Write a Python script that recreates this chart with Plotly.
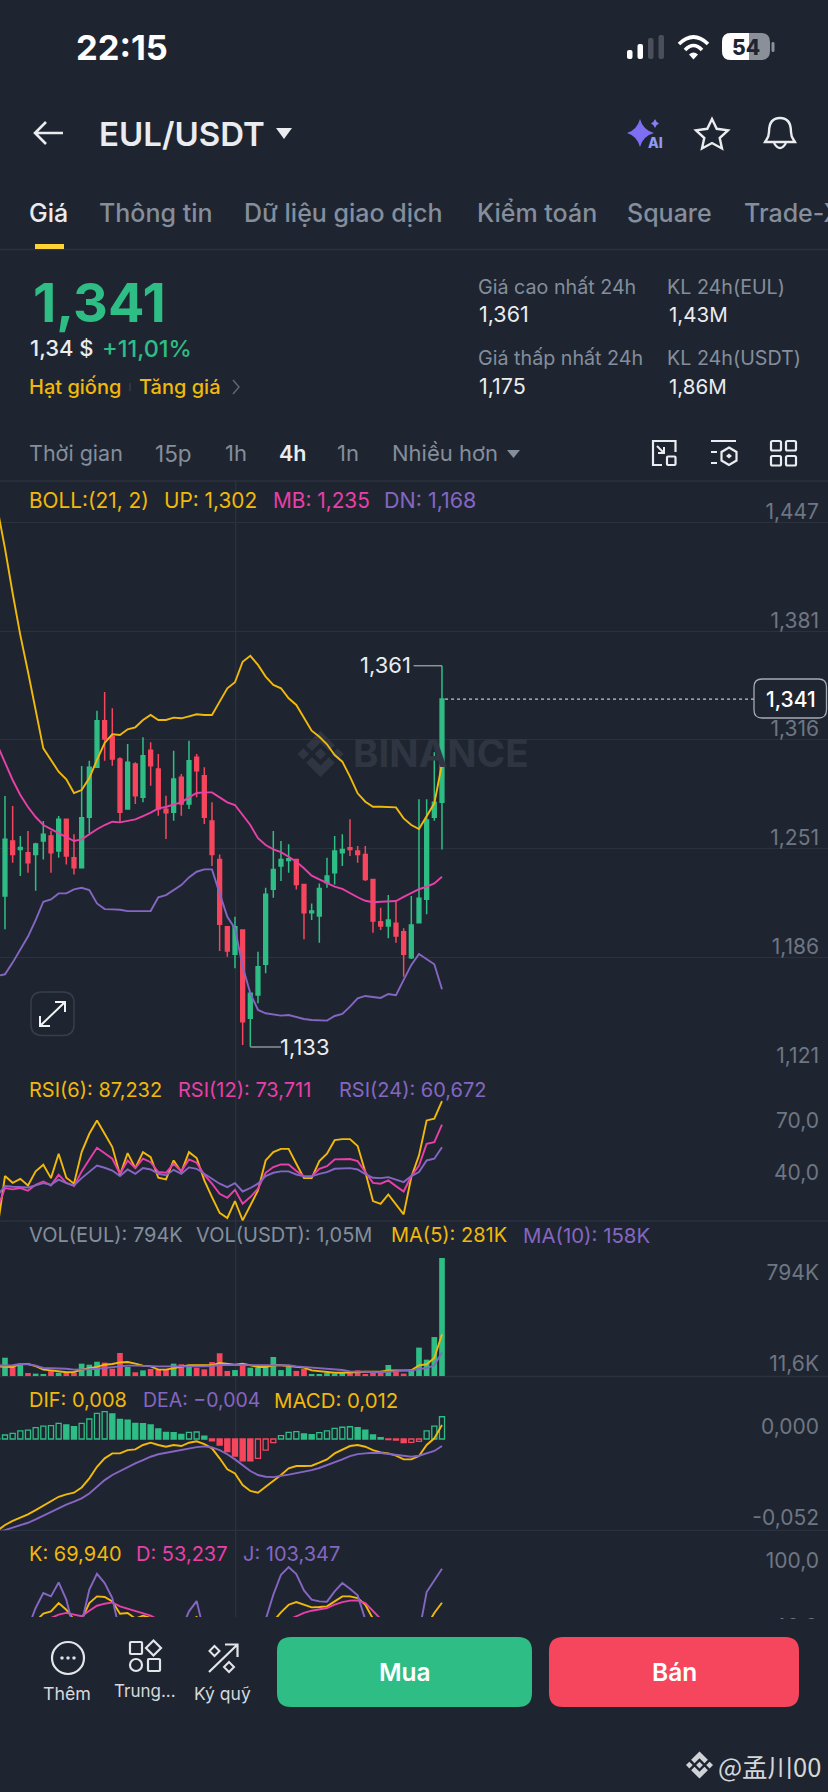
import plotly.graph_objects as go

W, H = 828, 1792
FONT = "Inter"
BG = "#1F2530"
GRID = "#2C323D"
GREEN = "#2EBD85"
RED = "#F6465D"
YELLOW = "#F0B90B"
PINK = "#E83FA8"
PURPLE = "#8566C2"
GRAY = "#848E9C"
TICK = "#6E7683"
LIGHT = "#EAECEF"

# candles
OPENS = [1.2655, 1.2229, 1.2559, 1.2509, 1.2489, 1.2479, 1.2559, 1.2589, 1.2499, 1.2689,
         1.2459, 1.2399, 1.2701, 1.3001, 1.3280, 1.3184, 1.3051, 1.2751, 1.3021, 1.2821,
         1.3103, 1.2991, 1.2749, 1.2731, 1.2941, 1.2781, 1.3061, 1.2951, 1.2679, 1.2449,
         1.2045, 1.1880, 1.2025, 1.1496, 1.1636, 1.1820, 1.2270, 1.2409, 1.2443, 1.2449,
         1.2299, 1.2129, 1.2109, 1.2309, 1.2369, 1.2489, 1.2519, 1.2499, 1.2479, 1.2329,
         1.2075, 1.2049, 1.2066, 1.2015, 1.1859, 1.2069, 1.2210, 1.2701, 1.2791]
HIGHS = [1.2685, 1.2829, 1.2769, 1.2589, 1.2619, 1.2549, 1.2679, 1.2619, 1.2709, 1.2689,
         1.2599, 1.3009, 1.3041, 1.3340, 1.3452, 1.3355, 1.3061, 1.3141, 1.3031, 1.3181,
         1.3151, 1.3081, 1.2831, 1.3101, 1.2961, 1.3161, 1.3081, 1.3001, 1.2791, 1.2479,
         1.2045, 1.2105, 1.2025, 1.1646, 1.1895, 1.2279, 1.2619, 1.2559, 1.2539, 1.2449,
         1.2299, 1.2185, 1.2305, 1.2459, 1.2589, 1.2599, 1.2689, 1.2529, 1.2529, 1.2329,
         1.2159, 1.2235, 1.2199, 1.2036, 1.2229, 1.2809, 1.2809, 1.3091, 1.361]
LOWS = [1.2133, 1.2030, 1.2429, 1.2349, 1.2369, 1.2261, 1.2449, 1.2369, 1.2459, 1.2419,
        1.2359, 1.2399, 1.2605, 1.3001, 1.3041, 1.3011, 1.2671, 1.2751, 1.2781, 1.2791,
        1.2891, 1.2711, 1.2571, 1.2681, 1.2711, 1.2751, 1.2821, 1.2661, 1.2409, 1.1900,
        1.1865, 1.1796, 1.1336, 1.1326, 1.1586, 1.1766, 1.2219, 1.2319, 1.2369, 1.2269,
        1.1970, 1.2085, 1.1949, 1.2279, 1.2299, 1.2409, 1.2469, 1.2429, 1.2319, 1.2009,
        1.2025, 1.1976, 1.1949, 1.1745, 1.1852, 1.2069, 1.2120, 1.2681, 1.2509]
CLOSES = [1.2187, 1.2569, 1.2479, 1.2521, 1.2429, 1.2541, 1.2599, 1.2489, 1.2689, 1.2469,
          1.2399, 1.2699, 1.3001, 1.3280, 1.3171, 1.3051, 1.2731, 1.3031, 1.2831, 1.3071,
          1.3011, 1.2751, 1.2729, 1.2931, 1.2781, 1.3041, 1.2981, 1.2701, 1.2479, 1.2060,
          1.1900, 1.2045, 1.1476, 1.1646, 1.1805, 1.2240, 1.2389, 1.2449, 1.2453, 1.2299,
          1.2129, 1.2139, 1.2275, 1.2349, 1.2499, 1.2509, 1.2509, 1.2479, 1.2329, 1.2079,
          1.2049, 1.2085, 1.1989, 1.1880, 1.2055, 1.2216, 1.2685, 1.2791, 1.341]

BOLL_UP = [1.4556, 1.4314, 1.4045, 1.3794, 1.3574, 1.3345, 1.3115, 1.3045, 1.2975, 1.2929,
           1.2847, 1.2865, 1.2937, 1.3045, 1.3147, 1.3199, 1.3195, 1.3229, 1.3241, 1.3285,
           1.3315, 1.3285, 1.3285, 1.3299, 1.3295, 1.3307, 1.3319, 1.3315, 1.3315, 1.3395,
           1.3475, 1.3511, 1.3634, 1.3670, 1.3615, 1.3545, 1.3495, 1.3475, 1.3415, 1.3375,
           1.3295, 1.3221, 1.3184, 1.3139, 1.3075, 1.3035, 1.2945, 1.2845, 1.2795, 1.2765,
           1.2765, 1.2763, 1.2761, 1.2695, 1.2655, 1.2631, 1.2705, 1.2785, 1.3021]
BOLL_MB = [1.3135, 1.3033, 1.2925, 1.2835, 1.2763, 1.2703, 1.2655, 1.2630, 1.2605, 1.2581,
           1.2559, 1.2569, 1.2601, 1.2630, 1.2655, 1.2675, 1.2671, 1.2681, 1.2689, 1.2709,
           1.2729, 1.2755, 1.2763, 1.2779, 1.2791, 1.2821, 1.2847, 1.2851, 1.2851, 1.2821,
           1.2791, 1.2775, 1.2715, 1.2655, 1.2576, 1.2535, 1.2509, 1.2492, 1.2465, 1.2435,
           1.2396, 1.2351, 1.2329, 1.2305, 1.2285, 1.2272, 1.2246, 1.2222, 1.2201, 1.2192,
           1.2195, 1.2199, 1.2199, 1.2224, 1.2246, 1.2270, 1.2285, 1.2305, 1.2345]
BOLL_DN = [1.1750, 1.1760, 1.1830, 1.1906, 1.1986, 1.2085, 1.2195, 1.2209, 1.2245, 1.2245,
           1.2269, 1.2279, 1.2265, 1.2185, 1.2151, 1.2149, 1.2147, 1.2139, 1.2141, 1.2139,
           1.2139, 1.2221, 1.2235, 1.2265, 1.2295, 1.2341, 1.2375, 1.2389, 1.2389, 1.2245,
           1.2105, 1.2035, 1.1806, 1.1646, 1.1546, 1.1526, 1.1520, 1.1512, 1.1516, 1.1502,
           1.1492, 1.1486, 1.1482, 1.1482, 1.1510, 1.1522, 1.1566, 1.1616, 1.1630, 1.1622,
           1.1618, 1.1642, 1.1634, 1.1726, 1.1816, 1.1882, 1.1852, 1.1820, 1.1670]

RSI6 = [13.6, 44.0, 40.1, 42.4, 38.6, 46.7, 50.5, 42.8, 56.9, 43.0,
        39.6, 57.8, 68.4, 76.1, 68.4, 60.7, 44.7, 57.2, 48.6, 57.8,
        54.9, 43.0, 42.1, 53.0, 46.3, 57.8, 54.4, 41.5, 31.9, 22.8,
        19.8, 29.6, 18.4, 27.1, 35.7, 53.0, 57.8, 59.7, 59.7, 51.1,
        42.8, 42.8, 52.6, 56.9, 64.7, 65.3, 65.3, 61.3, 46.3, 29.6,
        28.0, 33.4, 27.6, 21.9, 43.4, 55.9, 76.1, 77.1, 87.232]
RSI12 = [25.1, 37.1, 36.3, 37.1, 35.5, 39.0, 40.9, 38.6, 44.7, 40.1,
         38.2, 46.7, 53.6, 60.3, 57.2, 54.0, 45.3, 53.0, 48.6, 54.0,
         52.0, 46.3, 45.9, 51.1, 46.7, 53.6, 51.7, 44.7, 39.6, 33.8,
         31.5, 36.1, 28.0, 31.9, 36.7, 45.9, 49.2, 50.7, 50.7, 46.9,
         43.8, 43.8, 48.2, 49.7, 53.6, 53.8, 53.8, 52.6, 46.3, 40.1,
         39.6, 41.5, 38.2, 35.1, 44.0, 50.1, 62.6, 63.6, 73.711]
RSI24 = [32.8, 38.2, 37.8, 37.8, 37.4, 38.6, 39.9, 39.0, 41.9, 39.9,
         38.6, 42.8, 46.7, 50.1, 48.8, 47.2, 44.0, 47.8, 45.3, 48.6,
         47.8, 45.3, 44.4, 47.6, 45.3, 49.0, 48.2, 45.3, 42.8, 39.6,
         37.6, 39.9, 35.1, 37.1, 39.6, 44.0, 45.9, 46.7, 46.7, 44.9,
         43.8, 43.8, 45.3, 46.3, 48.2, 48.6, 48.6, 47.8, 45.1, 43.0,
         42.8, 43.4, 42.1, 40.5, 44.0, 46.3, 53.0, 54.0, 60.672]

VOLUME = [94, 123, 65, 79, 20, 16, 13, 34, 22, 20,
          22, 83, 76, 96, 90, 49, 155, 61, 25, 38,
          47, 43, 43, 83, 79, 61, 56, 45, 94, 153,
          34, 40, 79, 56, 56, 65, 128, 40, 61, 34,
          47, 7, 11, 20, 16, 20, 20, 38, 11, 22,
          25, 74, 34, 16, 43, 191, 110, 262, 794]
VOL_MA5 = [65, 61, 61, 81, 81, 67, 43, 38, 29, 25,
           27, 43, 52, 61, 76, 81, 92, 94, 83, 70,
           65, 43, 43, 54, 61, 72, 72, 70, 72, 87,
           79, 76, 83, 74, 61, 61, 72, 72, 65, 61,
           56, 38, 31, 25, 22, 22, 25, 31, 29, 29,
           29, 38, 38, 38, 38, 72, 79, 121, 281]
VOL_MA10 = [70, 70, 72, 81, 79, 70, 54, 52, 52, 49,
            43, 43, 45, 49, 54, 61, 67, 70, 70, 67,
            67, 65, 65, 65, 65, 61, 61, 65, 67, 74,
            74, 74, 74, 72, 72, 72, 76, 76, 72, 65,
            61, 56, 52, 49, 45, 40, 31, 29, 27, 25,
            25, 29, 34, 36, 36, 47, 52, 72, 158]

MACD_HIST = [0.0004, 0.0023, 0.0032, 0.0046, 0.0051, 0.0065, 0.0074, 0.0076, 0.0089, 0.0080,
             0.0070, 0.0089, 0.0114, 0.0146, 0.0156, 0.0143, 0.0112, 0.0108, 0.0089, 0.0087,
             0.0080, 0.0057, 0.0038, 0.0036, 0.0027, 0.0038, 0.0040, 0.0017, -0.0010, -0.0034,
             -0.0072, -0.0097, -0.0124, -0.0125, -0.0110, -0.0063, -0.0021, 0.0019, 0.0038, 0.0042,
             0.0029, 0.0025, 0.0036, 0.0046, 0.0061, 0.0067, 0.0070, 0.0065, 0.0051, 0.0023,
             0.0008, -0.0004, -0.0006, -0.0021, -0.0019, -0.0013, 0.0046, 0.0074, 0.0127]
DIF = [-0.0523, -0.0490, -0.0466, -0.0447, -0.0429, -0.0405, -0.0380, -0.0357, -0.0329, -0.0315,
       -0.0306, -0.0276, -0.0224, -0.0158, -0.0110, -0.0082, -0.0082, -0.0063, -0.0059, -0.0034,
       -0.0021, -0.0034, -0.0044, -0.0034, -0.0040, -0.0021, -0.0013, -0.0029, -0.0053, -0.0110,
       -0.0173, -0.0196, -0.0262, -0.0296, -0.0306, -0.0272, -0.0239, -0.0205, -0.0167, -0.0154,
       -0.0154, -0.0152, -0.0135, -0.0116, -0.0082, -0.0059, -0.0040, -0.0034, -0.0044, -0.0063,
       -0.0076, -0.0082, -0.0095, -0.0116, -0.0116, -0.0097, -0.0034, 0.0004, 0.0080]
DEA = [-0.0528, -0.0519, -0.0505, -0.0492, -0.0477, -0.0458, -0.0437, -0.0414, -0.0393, -0.0374,
       -0.0357, -0.0338, -0.0310, -0.0272, -0.0234, -0.0205, -0.0182, -0.0158, -0.0139, -0.0120,
       -0.0101, -0.0087, -0.0078, -0.0070, -0.0063, -0.0053, -0.0046, -0.0042, -0.0048, -0.0063,
       -0.0087, -0.0116, -0.0148, -0.0182, -0.0205, -0.0215, -0.0217, -0.0211, -0.0203, -0.0194,
       -0.0186, -0.0177, -0.0165, -0.0150, -0.0133, -0.0116, -0.0097, -0.0086, -0.0082, -0.0078,
       -0.0080, -0.0086, -0.0091, -0.0097, -0.0101, -0.0095, -0.0082, -0.0068, -0.0040]

KDJ_K = [40, 42, 45, 48, 48.4, 51.7, 59.2, 61.5, 69.7, 63.1,
         53.3, 53.3, 69.7, 76.2, 75.6, 71.3, 59.2, 59.9, 54.3, 57.2,
         55.0, 46.8, 40.2, 41.9, 46.8, 51.7, 55.9, 45.1, 33.7, 20.6,
         10.8, 14.1, 4.3, 7.5, 20.6, 40.2, 51.7, 60.5, 68.0, 70.6,
         68.0, 65.4, 65.7, 66.4, 71.3, 76.2, 76.2, 74.6, 68.0, 53.3,
         40.2, 33.7, 27.2, 17.4, 23.9, 37.0, 46.8, 59.9, 69.94]
KDJ_D = [42, 42, 43, 44, 45, 47, 51.7, 55.0, 58.2, 59.9,
         57.9, 56.6, 62.1, 67.0, 69.0, 70.3, 66.4, 64.1, 61.5, 59.9,
         57.2, 53.3, 48.4, 46.1, 46.1, 47.4, 50.0, 47.4, 41.9, 33.7,
         25.5, 20.6, 15.7, 12.4, 14.1, 23.9, 37.0, 48.4, 53.3, 56.6,
         59.9, 62.1, 63.1, 64.8, 68.0, 70.6, 72.0, 72.3, 69.7, 62.1,
         55.0, 46.8, 38.6, 30.4, 28.8, 30.4, 35.3, 43.5, 53.237]
KDJ_J = [30, 35, 40, 45, 45.1, 64.8, 79.5, 76.2, 89.9, 73.0,
         43.5, 50.0, 82.8, 98.4, 89.3, 74.6, 40.2, 43.5, 37.0, 37.0,
         33.7, 30.4, 27.2, 33.7, 43.5, 61.5, 71.6, 40.2, 20.6, 7.5,
         1.0, 4.3, -5.5, 2.6, 23.9, 53.3, 77.8, 97.5, 105.0, 98.1,
         82.1, 73.0, 71.3, 71.0, 81.1, 89.3, 83.7, 77.2, 53.3, 27.2,
         14.1, 10.8, 4.3, 1.0, 14.1, 40.2, 80.5, 91.6, 103.347]

PRICE_TICKS = [1.447, 1.3818, 1.3166, 1.2514, 1.1862, 1.121]
PRICE_LABELS = ["1,447", "1,381", "1,316", "1,251", "1,186", "1,121"]
RSI_TICKS = [70, 40]
RSI_LABELS = ["70,0", "40,0"]
VOL_TICKS = [624, 11.6]
VOL_LABELS = ["794K", "11,6K"]
MACD_TICKS = [0, -0.052]
MACD_LABELS = ["0,000", "-0,052"]
KDJ_TICKS = [100]
KDJ_LABELS = ["100,0"]

LAST_PRICE = 1.341
HIGH_PRICE = 1.361
LOW_PRICE = 1.133
X = list(range(len(CLOSES)))


def dom(top, bottom):
    return [1 - bottom / H, 1 - top / H]


def pg(d):
    # path written in screen pixels -> paper coordinates
    out = []
    is_x = True
    for tok in d.split():
        if tok.isalpha():
            out.append(tok)
        else:
            v = float(tok)
            out.append(f"{v / W:.5f}" if is_x else f"{1 - v / H:.5f}")
            is_x = not is_x
    return " ".join(out)


def rrect(x0, y0, x1, y1, r):
    return (f"M {x0 + r} {y0} L {x1 - r} {y0} Q {x1} {y0} {x1} {y0 + r} L {x1} {y1 - r} "
            f"Q {x1} {y1} {x1 - r} {y1} L {x0 + r} {y1} Q {x0} {y1} {x0} {y1 - r} "
            f"L {x0} {y0 + r} Q {x0} {y0} {x0 + r} {y0} Z")


fig = go.Figure()


def shape(d, fill=None, line=None, width=0, layer="above"):
    fig.add_shape(type="path", xref="paper", yref="paper", path=pg(d), layer=layer,
                  fillcolor=fill or "rgba(0,0,0,0)",
                  line=dict(color=line or "rgba(0,0,0,0)", width=width))


def label(text, x, y, size, color, anchor="left", weight=400, family=FONT):
    # annotation boxes carry about 2px of padding
    shift = {"left": -2, "right": 2, "center": 0}[anchor]
    fig.add_annotation(xref="paper", yref="paper", x=(x + shift) / W, y=1 - y / H, text=text,
                       showarrow=False, xanchor=anchor, yanchor="middle", borderpad=0,
                       font=dict(family=family, size=size, color=color, weight=weight))


def binance_logo(cx, cy, r, color, layer="above"):
    pieces = [
        [(0, -0.25), (0.25, 0), (0, 0.25), (-0.25, 0)],
        [(-0.75, -0.25), (-0.5, 0), (-0.75, 0.25), (-1, 0)],
        [(0.75, -0.25), (1, 0), (0.75, 0.25), (0.5, 0)],
        [(0, -1), (0.62, -0.38), (0.37, -0.13), (0, -0.5), (-0.37, -0.13), (-0.62, -0.38)],
        [(0, 1), (0.62, 0.38), (0.37, 0.13), (0, 0.5), (-0.37, 0.13), (-0.62, 0.38)],
    ]
    for pts in pieces:
        d = "M " + " L ".join(f"{cx + a * r} {cy + b * r}" for a, b in pts) + " Z"
        shape(d, fill=color, layer=layer)


def line_trace(y, color, axis, width=1.9):
    fig.add_trace(go.Scatter(x=X, y=y, mode="lines", yaxis=axis, hoverinfo="skip",
                             line=dict(color=color, width=width), showlegend=False))


# price panel
fig.add_trace(go.Candlestick(
    x=X, open=OPENS, high=HIGHS, low=LOWS, close=CLOSES, yaxis="y", hoverinfo="skip",
    increasing=dict(line=dict(color=GREEN, width=1.5), fillcolor=GREEN),
    decreasing=dict(line=dict(color=RED, width=1.5), fillcolor=RED),
    showlegend=False,
))
line_trace(BOLL_UP, YELLOW, "y")
line_trace(BOLL_MB, PINK, "y")
line_trace(BOLL_DN, PURPLE, "y")

# rsi
line_trace(RSI6, YELLOW, "y2")
line_trace(RSI12, PINK, "y2")
line_trace(RSI24, PURPLE, "y2")

# volume
vol_colors = [GREEN if c >= o else RED for o, c in zip(OPENS, CLOSES)]
fig.add_trace(go.Bar(x=X, y=VOLUME, yaxis="y3", width=0.74, hoverinfo="skip",
                     marker=dict(color=vol_colors, line=dict(width=0)), showlegend=False))
line_trace(VOL_MA5, YELLOW, "y3")
line_trace(VOL_MA10, PURPLE, "y3")

# macd, bars that grow on the positive side / shrink on the negative side are hollow
hollow = [i > 0 and MACD_HIST[i] > MACD_HIST[i - 1] for i in X]
edge = [GREEN if v >= 0 else RED for v in MACD_HIST]
fill = ["rgba(0,0,0,0)" if h else e for h, e in zip(hollow, edge)]
fig.add_trace(go.Bar(x=X, y=MACD_HIST, yaxis="y4", width=0.66, hoverinfo="skip",
                     marker=dict(color=fill, line=dict(color=edge, width=1.3)), showlegend=False))
line_trace(DIF, YELLOW, "y4")
line_trace(DEA, PURPLE, "y4")

# kdj
line_trace(KDJ_K, YELLOW, "y5")
line_trace(KDJ_D, PINK, "y5")
line_trace(KDJ_J, PURPLE, "y5")


def y_axis(top, bottom, rng, ticks, labels, grid=False, shift=4):
    return dict(domain=dom(top, bottom), range=rng, anchor="x", side="right", fixedrange=True,
                tickmode="array", tickvals=ticks, ticktext=labels, ticklen=0,
                ticklabelposition="inside top", ticklabeloverflow="allow", ticklabelstandoff=6,
                ticklabelshift=shift,
                tickfont=dict(family=FONT, size=21, color=TICK),
                showgrid=grid, gridcolor=GRID, gridwidth=1.3, zeroline=False, showline=False)


fig.update_layout(
    width=W, height=H, autosize=False, margin=dict(l=0, r=0, t=0, b=0, autoexpand=False),
    paper_bgcolor=BG, plot_bgcolor=BG, barmode="overlay", hovermode=False, showlegend=False,
    xaxis=dict(range=[0.35, 108.35], domain=[0, 1], rangeslider=dict(visible=False),
               showgrid=False, showticklabels=False, zeroline=False, showline=False,
               ticks="", anchor="y5", fixedrange=True),
    yaxis=y_axis(481, 1066, [1.121, 1.4718], PRICE_TICKS, PRICE_LABELS, grid=True),
    yaxis2=y_axis(1066, 1221, [18.07, 107.5], RSI_TICKS, RSI_LABELS),
    yaxis3=y_axis(1221, 1376, [0, 1043], VOL_TICKS, VOL_LABELS),
    yaxis4=y_axis(1376, 1530.3, [-0.052, 0.0359], MACD_TICKS, MACD_LABELS, shift=2),
    yaxis5=y_axis(1530.3, 1617, [55.9, 141.3], KDJ_TICKS, KDJ_LABELS, shift=3),
)

# panel separators and crosshair
for y in [249.5, 481, 1221, 1376.5, 1530.3]:
    fig.add_shape(type="line", xref="paper", yref="paper", x0=0, x1=1, y0=1 - y / H, y1=1 - y / H,
                  line=dict(color=GRID, width=1.3), layer="below")
fig.add_shape(type="line", xref="x", yref="paper", x0=31.09, x1=31.09,
              y0=1 - 1617 / H, y1=1 - 481 / H, line=dict(color=GRID, width=1.3), layer="below")

# watermark
binance_logo(320.5, 754, 23, "#2F3641", layer="below")
label("BINANCE", 354, 753, 38.5, "#2F3641", weight=700)

# high/low leaders, last price
fig.add_shape(type="line", xref="x", yref="y", x0=54.3, x1=58, y0=HIGH_PRICE, y1=HIGH_PRICE,
              line=dict(color="#A8ADB5", width=1.2))
fig.add_shape(type="line", xref="x", yref="y", x0=33, x1=37, y0=LOW_PRICE - 0.0006, y1=LOW_PRICE - 0.0006,
              line=dict(color="#A8ADB5", width=1.2))
fig.add_shape(type="line", xref="x", yref="y", x0=58.4, x1=98.7, y0=LAST_PRICE, y1=LAST_PRICE,
              line=dict(color="#C4C8CE", width=1.2, dash="3px,3px"))
shape(rrect(754, 679, 826.5, 718, 8), fill=BG, line="#A6ABB3", width=1.3)
label("1,341", 790.5, 699, 21, "#FFFFFF", anchor="center", weight=500)
label("1,361", 410, 665.5, 22, LIGHT, anchor="right")
label("1,133", 281, 1047, 22, LIGHT)

# expand button
shape(rrect(31, 992, 74, 1035.5, 11), line="#383E49", width=1.5)
shape("M 40 1026 L 65 1002 M 55 1002 L 65 1002 L 65 1012 M 40 1016 L 40 1026 L 50 1026",
      line="#F2F3F5", width=2)

# indicator headers
chart_size = 20
boll_size = 20.8
label("BOLL:(21, 2)", 30, 500, boll_size, YELLOW)
label("UP: 1,302", 165, 500, boll_size, YELLOW)
label("MB: 1,235", 273.5, 500, boll_size, PINK)
label("DN: 1,168", 385, 500, 21.5, PURPLE)
label("RSI(6): 87,232", 30, 1090, chart_size, YELLOW)
label("RSI(12): 73,711", 179, 1090, chart_size, PINK)
label("RSI(24): 60,672", 340, 1090, chart_size, PURPLE)
label("VOL(EUL): 794K", 30, 1235, chart_size, GRAY)
label("VOL(USDT): 1,05M", 197, 1235, chart_size, GRAY)
label("MA(5): 281K", 392, 1235, chart_size, YELLOW)
label("MA(10): 158K", 524, 1235, 20.4, PURPLE)
label("DIF: 0,008", 30, 1400, chart_size, YELLOW)
label("DEA: −0,004", 144, 1400, 19.5, PURPLE)
label("MACD: 0,012", 275, 1400, 20.4, YELLOW)
label("K: 69,940", 30, 1554, chart_size, YELLOW)
label("D: 53,237", 137, 1554, chart_size, PINK)
label("J: 103,347", 244, 1554, chart_size, PURPLE)

# the next kdj tick label sits mostly under the toolbar, only its top edge shows
fig.add_annotation(xref="paper", yref="paper", x=819 / W, y=1 - 1612.5 / H, text="40,0",
                   showarrow=False, xanchor="right", yanchor="top", valign="top", height=5,
                   borderpad=0, font=dict(family=FONT, size=21, color=TICK))

# status bar
label("22:15", 77, 47.5, 34.5, "#FFFFFF", weight=700)
shape(rrect(627, 50, 632.5, 59, 2), fill="#FFFFFF")
shape(rrect(637.5, 44, 643, 59, 2), fill="#FFFFFF")
shape(rrect(648, 38, 653.5, 59, 2), fill="#4A4F59")
shape(rrect(658.5, 35, 664, 59, 2), fill="#4A4F59")
shape("M 679 44 Q 693.5 30 708 44", line="#FFFFFF", width=3.6)
shape("M 685 50 Q 693.5 41 702 50", line="#FFFFFF", width=3.6)
shape("M 689 54.5 Q 693.5 50.5 698 54.5 L 693.5 59.5 Z", fill="#FFFFFF")
shape(rrect(722, 33, 770, 60, 9), fill="#8B9098")
shape("M 731 33 L 749 33 L 749 60 L 731 60 Q 722 60 722 51 L 722 42 Q 722 33 731 33 Z", fill="#FFFFFF")
shape(rrect(771.5, 42, 774.5, 52, 1.5), fill="#8B9098")
label("54", 745.5, 47, 21, "#1F2530", anchor="center", weight=800)

# title row
shape("M 63 133 L 35 133 M 46 122 L 35 133 L 46 144", line="#EAECEF", width=2.6)
label("EUL/USDT", 100, 133.5, 33, LIGHT, weight=600)
shape("M 276 128 L 292 128 L 284 139 Z", fill=LIGHT)
shape("M 640 119 Q 643 130 654 133 Q 643 136 640 147 Q 637 136 627 133 Q 637 130 640 119 Z", fill="#7E6EF2")
shape("M 655 119 Q 656 122 659 123.5 Q 656 125 655 128 Q 654 125 651 123.5 Q 654 122 655 119 Z", fill="#8B7BF5")
label("AI", 655, 142.5, 14, "#8E9BF5", anchor="center", weight=800)
shape("M 712 119 L 716.7 128.8 L 728 130.3 L 719.7 138 L 722 148.5 L 712 143 L 702 148.5 "
      "L 704.3 138 L 696 130.3 L 707.3 128.8 Z", line=LIGHT, width=2.4)
shape("M 780 118 C 771 118 769 125 769 132 C 769 138 766 140 765 142 L 795 142 "
      "C 794 140 791 138 791 132 C 791 125 789 118 780 118 Z", line=LIGHT, width=2.4)
shape("M 774 143 Q 780 153 786 143", line=LIGHT, width=2.4)

# tabs
label("Giá", 30, 213, 25, LIGHT, weight=500)
label("Thông tin", 100, 213, 25, GRAY, weight=500)
label("Dữ liệu giao dịch", 245, 213, 25, GRAY, weight=500)
label("Kiểm toán", 478, 213, 25, GRAY, weight=500)
label("Square", 628, 213, 25, GRAY, weight=500)
label("Trade-X", 745, 213, 25, GRAY, weight=500)
shape("M 35 244 L 64 244 L 64 249 L 35 249 Z", fill="#FCD535")

# price block
label("1,341", 34, 303, 54, GREEN, weight=700)
label("1,34 $", 31, 348, 22, LIGHT, weight=500)
label("+11,01%", 103, 348, 23.5, GREEN, weight=500)
label("Hạt giống", 30, 387, 20, YELLOW, weight=500)
label("Tăng giá", 140, 387, 20, YELLOW, weight=500)
shape("M 130 383 L 130 391", line="#3A404B", width=1.3)
shape("M 233 380 L 239 387 L 233 394", line="#5E6673", width=1.5)
label("Giá cao nhất 24h", 479, 287, 19.7, GRAY)
label("KL 24h(EUL)", 668, 287, 19.7, GRAY)
label("1,361", 480, 314, 21.5, LIGHT)
label("1,43M", 670, 314, 20.5, LIGHT)
label("Giá thấp nhất 24h", 479, 358, 19.7, GRAY)
label("KL 24h(USDT)", 668, 358, 19.7, GRAY)
label("1,175", 480, 386, 21.5, LIGHT)
label("1,86M", 670, 386, 20.5, LIGHT)

# interval row
label("Thời gian", 30, 453, 21.5, GRAY)
label("15p", 156, 453, 22.5, GRAY)
label("1h", 226, 453, 22, GRAY)
label("4h", 280, 453, 21.5, LIGHT, weight=600)
label("1n", 338, 453, 22, GRAY)
label("Nhiều hơn", 393, 453, 22, GRAY)
shape("M 507 450 L 520 450 L 513.5 458 Z", fill=GRAY)
shape("M 675.5 452 L 675.5 441 L 653 441 L 653 465 L 662 465", line=LIGHT, width=2.2)
shape(rrect(667, 456.5, 675.5, 465, 1), line=LIGHT, width=2.2)
shape("M 657 446 L 664 453 M 664 447 L 664 453 L 658 453", line=LIGHT, width=2)
shape("M 711 441 L 736 441 M 711 452 L 717 452 M 711 463 L 717 463", line=LIGHT, width=2.2)
shape("M 729 447.5 L 736.5 452 L 736.5 460.5 L 729 465 L 721.5 460.5 L 721.5 452 Z", line=LIGHT, width=2.2)
shape("M 729 453.5 L 732 456 L 729 458.5 L 726 456 Z", fill=LIGHT)
for x0, y0 in [(771, 441), (786, 441), (771, 456), (786, 456)]:
    shape(rrect(x0, y0, x0 + 10, y0 + 9.5, 1.5), line=LIGHT, width=2.2)

# bottom toolbar
fig.add_shape(type="circle", xref="paper", yref="paper", x0=52 / W, x1=84 / W,
              y0=1 - 1674 / H, y1=1 - 1642 / H, line=dict(color="#E3E5E9", width=2.2))
for x0 in [62, 68, 74]:
    shape(rrect(x0 - 1.5, 1656.5, x0 + 1.5, 1659.5, 0.7), fill="#E3E5E9")
shape(rrect(130, 1642, 142, 1654, 1), line="#E3E5E9", width=2.2)
shape("M 153.5 1640.5 L 161 1648 L 153.5 1655.5 L 146 1648 Z", line="#E3E5E9", width=2.2)
fig.add_shape(type="circle", xref="paper", yref="paper", x0=130 / W, x1=142 / W,
              y0=1 - 1671 / H, y1=1 - 1659 / H, line=dict(color="#E3E5E9", width=2.2))
shape(rrect(148, 1659, 160, 1671, 1), line="#E3E5E9", width=2.2)
shape("M 209 1672 L 237 1645 M 225 1644.5 L 237.5 1644.5 L 237.5 1657", line="#E3E5E9", width=2.2)
shape("M 214.5 1646 L 219.5 1651 L 214.5 1656 L 209.5 1651 Z", line="#E3E5E9", width=2)
shape("M 229 1662 L 234 1667 L 229 1672 L 224 1667 Z", line="#E3E5E9", width=2)
label("Thêm", 67, 1693, 17.8, "#D5D8DD", anchor="center")
label("Trung...", 145, 1691, 17, "#D5D8DD", anchor="center")
label("Ký quỹ", 222, 1693, 17.5, "#D5D8DD", anchor="center")
shape(rrect(277, 1637, 532, 1707, 14), fill=GREEN)
shape(rrect(549, 1637, 799, 1707, 14), fill=RED)
label("Mua", 405, 1672, 24.5, "#FFFFFF", anchor="center", weight=600)
label("Bán", 674, 1672, 24.5, "#FFFFFF", anchor="center", weight=600)

# share watermark
binance_logo(699.5, 1765, 13.5, "#CFD2D6")
label("@孟川00", 719, 1765, 25.5, "#D5D7DA", family="Noto Sans CJK SC")

fig.write_html(
    "out.html",
    post_script=f"document.body.style.margin='0';document.body.style.background='{BG}';"
                "document.body.style.overflow='hidden';",
    config=dict(displayModeBar=False),
)
